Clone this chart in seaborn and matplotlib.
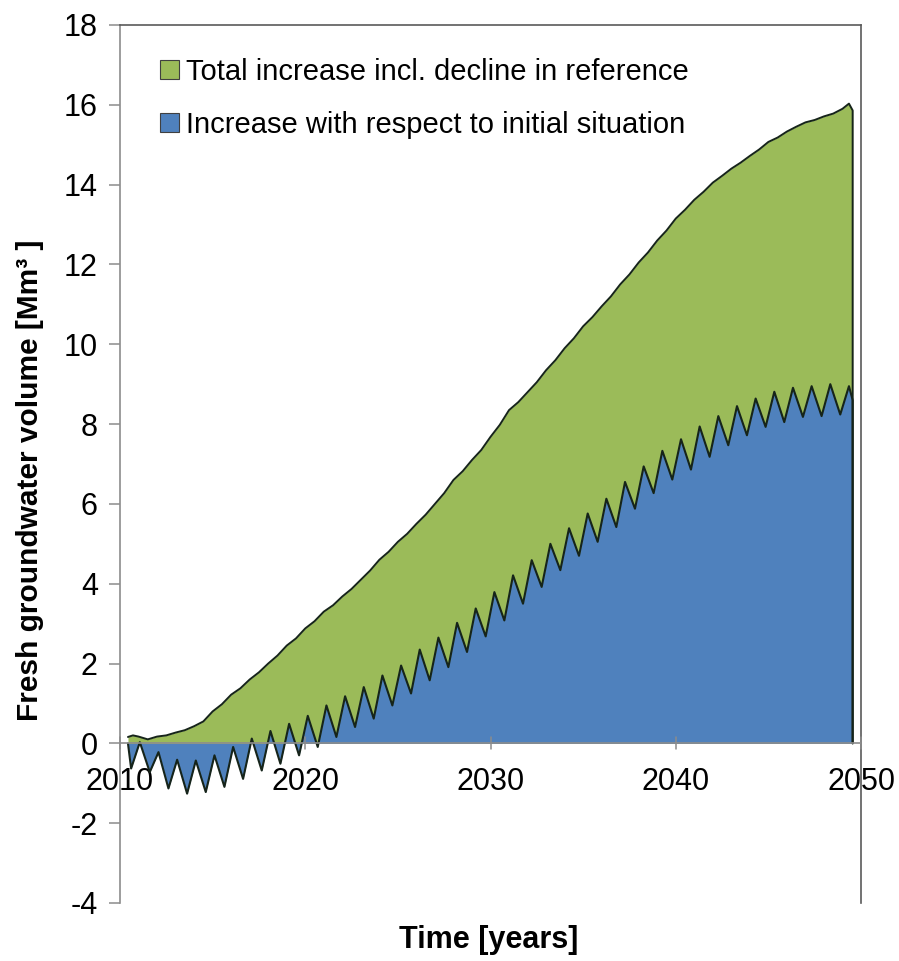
import numpy as np
import pandas as pd
import matplotlib
matplotlib.use("Agg")
import matplotlib.pyplot as plt
from matplotlib.patches import Patch
import seaborn as sns

# --- data --------------------------------------------------------------
# blue: yearly peaks (winter) and troughs (summer) of the increase w.r.t. initial situation
blue_peak_t = np.linspace(2011.07, 2049.35, 39)
blue_peak = [0.03, -0.22, -0.41, -0.43, -0.30, -0.09, 0.12, 0.31, 0.49, 0.69,
             0.95, 1.18, 1.41, 1.70, 1.95, 2.35, 2.65, 3.02, 3.38, 3.79,
             4.21, 4.59, 5.00, 5.39, 5.76, 6.13, 6.55, 6.94, 7.33, 7.62,
             7.94, 8.20, 8.45, 8.64, 8.81, 8.91, 8.95, 9.00, 8.95]
blue_trough_t = np.linspace(2010.60, 2048.88, 39)
blue_trough = [-0.63, -0.72, -1.13, -1.26, -1.22, -1.09, -0.89, -0.68, -0.51, -0.30,
               -0.09, 0.16, 0.41, 0.62, 0.95, 1.25, 1.58, 1.91, 2.29, 2.68,
               3.08, 3.50, 3.92, 4.34, 4.70, 5.05, 5.42, 5.88, 6.27, 6.61,
               6.86, 7.18, 7.47, 7.72, 7.93, 8.05, 8.18, 8.20, 8.24]
blue_start = (2010.43, 0.0)
blue_end = (2049.55, 8.60)

# green: total increase incl. decline in reference (half-year readings)
green_t = np.arange(2011.0, 2049.01, 0.5)
green = [0.17, 0.10, 0.17, 0.20, 0.27, 0.33, 0.43, 0.55, 0.80, 0.98,
         1.22, 1.38, 1.60, 1.78, 2.00, 2.20, 2.45, 2.63, 2.88, 3.06,
         3.30, 3.46, 3.68, 3.87, 4.10, 4.33, 4.60, 4.80, 5.05, 5.25,
         5.50, 5.73, 6.00, 6.27, 6.60, 6.82, 7.10, 7.35, 7.68, 7.98,
         8.35, 8.55, 8.80, 9.05, 9.35, 9.60, 9.90, 10.15, 10.45, 10.68,
         10.95, 11.20, 11.50, 11.75, 12.05, 12.30, 12.60, 12.85, 13.15, 13.37,
         13.62, 13.82, 14.05, 14.22, 14.40, 14.55, 14.72, 14.88, 15.07, 15.18,
         15.33, 15.45, 15.56, 15.62, 15.71, 15.78, 15.90]
green_start_t = [2010.43, 2010.70]
green_start = [0.16, 0.20]
green_end_t = [2049.35, 2049.55]
green_end = [16.03, 15.86]

labels = ["Total increase incl. decline in reference",
          "Increase with respect to initial situation"]
xticks = [2010, 2020, 2030, 2040, 2050]
yticks = list(range(-4, 19, 2))

# --- assemble series -----------------------------------------------------
bt = [blue_start[0]]
bv = [blue_start[1]]
for i in range(len(blue_peak)):
    bt += [blue_trough_t[i], blue_peak_t[i]]
    bv += [blue_trough[i], blue_peak[i]]
bt.append(blue_end[0])
bv.append(blue_end[1])
df_blue = pd.DataFrame({"t": bt, "v": bv})

gt = list(green_start_t) + list(green_t) + green_end_t
gv = list(green_start) + list(green) + green_end
df_green = pd.DataFrame({"t": gt, "v": gv})

GREEN = "#9BBB59"
BLUE = "#4F81BD"
EDGE = "#16241a"

sns.set_theme(style="white")
plt.rcParams["font.family"] = ["Liberation Sans", "DejaVu Sans"]
plt.rcParams["text.color"] = "black"
plt.rcParams["axes.labelcolor"] = "black"
plt.rcParams["ytick.labelcolor"] = "black"

fig = plt.figure(figsize=(8.99, 9.61), dpi=100)
ax = fig.add_axes([120 / 899, 58 / 961, 741 / 899, 878 / 961])

ax.fill_between(df_green.t, 0, df_green.v, color=GREEN, lw=0, zorder=1)
ax.fill_between(df_blue.t, 0, df_blue.v, color=BLUE, lw=0, zorder=2)

# outlines incl. the vertical drop at the end
g_line = pd.concat([df_green, pd.DataFrame({"t": [gt[-1]], "v": [0.0]})], ignore_index=True)
b_line = pd.concat([df_blue, pd.DataFrame({"t": [bt[-1]], "v": [0.0]})], ignore_index=True)
sns.lineplot(data=g_line, x="t", y="v", sort=False, estimator=None, color=EDGE, lw=1.4, ax=ax, zorder=3)
sns.lineplot(data=b_line, x="t", y="v", sort=False, estimator=None, color=EDGE, lw=1.5, ax=ax, zorder=4)

ax.set_xlim(2010, 2050)
ax.set_ylim(-4, 18)
ax.set_xticks(xticks)
ax.set_yticks(yticks)
ax.set_yticklabels([str(y) for y in yticks])

# x axis crosses at zero, like the spreadsheet original
ax.axhline(0, color="#8c8c8c", lw=1.2, zorder=5)
for s in ["top", "right"]:
    ax.spines[s].set_visible(True)
    ax.spines[s].set_color("#5a5a5a")
    ax.spines[s].set_linewidth(1.2)
ax.spines["left"].set_color("#8c8c8c")
ax.spines["left"].set_linewidth(1.2)
ax.spines["bottom"].set_visible(False)

ax.tick_params(axis="y", direction="out", length=8, width=1.1, color="#8c8c8c",
               pad=8, labelsize=22, left=True)
ax.tick_params(axis="x", bottom=False, labelbottom=False)
for x in xticks:
    ax.plot([x, x], [-0.15, 0.15], color="#8c8c8c", lw=1.1, zorder=5, clip_on=False)
    ax.text(x, -0.58, str(x), ha="center", va="top", fontsize=22)

ax.set_xlabel("")
ax.set_ylabel("Fresh groundwater volume [Mm³ ]", fontsize=21.5, fontweight="bold")
ax.yaxis.set_label_coords(-0.102, 0.481)
fig.text(489 / 899, 1 - 940 / 961, "Time [years]", ha="center", va="center",
         fontsize=22, fontweight="bold")

handles = [Patch(facecolor=GREEN, edgecolor="#404040", lw=0.8),
           Patch(facecolor=BLUE, edgecolor="#404040", lw=0.8)]
ax.legend(handles, labels, loc="upper left", bbox_to_anchor=(160 / 899, 1 - 58 / 961),
          bbox_transform=fig.transFigure, frameon=False, fontsize=21,
          handlelength=0.65, handleheight=0.65, handletextpad=0.25,
          labelspacing=0.85, borderpad=0, borderaxespad=0)

fig.savefig("out.png", dpi=100)
